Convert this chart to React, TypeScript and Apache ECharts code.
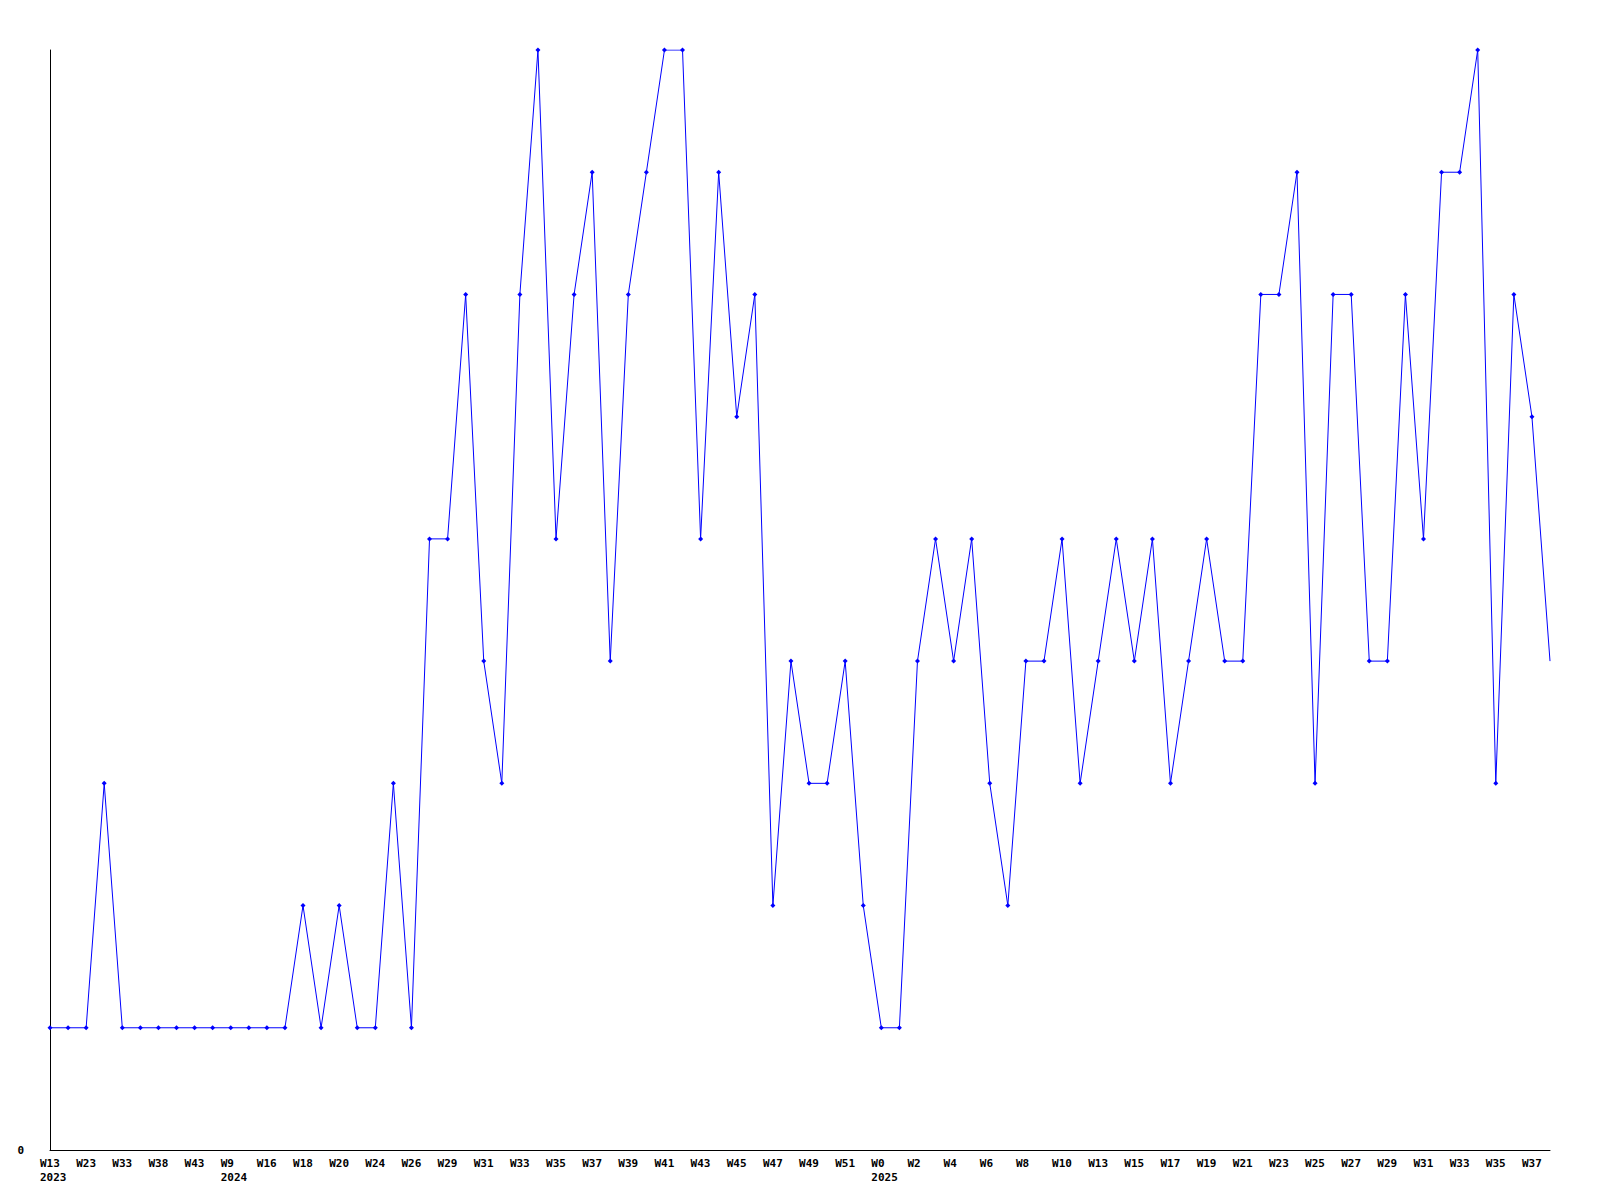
import React, { useEffect, useRef } from "react";
import * as echarts from "echarts";

const weekLabels = [
  "W13", "W18", "W23", "W28", "W33", "W36", "W38", "W41", "W43", "W48",
  "W9", "W13", "W16", "W17", "W18", "W19", "W20", "W22", "W24", "W25",
  "W26", "W28", "W29", "W30", "W31", "W32", "W33", "W34", "W35", "W36",
  "W37", "W38", "W39", "W40", "W41", "W42", "W43", "W44", "W45", "W46",
  "W47", "W48", "W49", "W50", "W51", "W52", "W0", "W1", "W2", "W3",
  "W4", "W5", "W6", "W7", "W8", "W9", "W10", "W12", "W13", "W14",
  "W15", "W16", "W17", "W18", "W19", "W20", "W21", "W22", "W23", "W24",
  "W25", "W26", "W27", "W28", "W29", "W30", "W31", "W32", "W33", "W34",
  "W35", "W36", "W37", "W38",
];

const yearStarts: Record<number, string> = { 0: "2023", 10: "2024", 46: "2025" };

const values = [
  1, 1, 1, 3, 1, 1, 1, 1, 1, 1,
  1, 1, 1, 1, 2, 1, 2, 1, 1, 3,
  1, 5, 5, 7, 4, 3, 7, 9, 5, 7,
  8, 4, 7, 8, 9, 9, 5, 8, 6, 7,
  2, 4, 3, 3, 4, 2, 1, 1, 4, 5,
  4, 5, 3, 2, 4, 4, 5, 3, 4, 5,
  4, 5, 3, 4, 5, 4, 4, 7, 7, 8,
  3, 7, 7, 4, 4, 7, 5, 8, 8, 9,
  3, 7, 6, 4,
];

const yTickLabels = ["0"];

const FONT = "'DejaVu Sans Mono', monospace";

export default function App() {
  const ref = useRef<HTMLDivElement>(null);
  useEffect(() => {
    if (!ref.current) return;
    const chart = echarts.init(ref.current, null, { renderer: "svg" });
    const lastIdx = values.length - 1;
    chart.setOption({
      animation: false,
      backgroundColor: "#ffffff",
      grid: { left: 50, right: 50, top: 50, bottom: 50, containLabel: false },
      xAxis: {
        type: "category",
        data: weekLabels,
        boundaryGap: false,
        axisLine: { show: true, lineStyle: { color: "#000000", width: 1 } },
        axisTick: { show: false },
        splitLine: { show: false },
        axisLabel: {
          interval: 1,
          hideOverlap: false,
          margin: 6,
          align: "center",
          color: "#000000",
          formatter: (val: string, idx: number) => {
            const y = yearStarts[idx];
            return y ? `{w|${val}}\n{w|${y}}` : `{w|${val}}`;
          },
          rich: {
            w: {
              width: 20,
              align: "left",
              fontFamily: FONT,
              fontWeight: "bold",
              fontSize: 11,
              lineHeight: 14,
              color: "#000000",
            },
          },
        },
      },
      yAxis: {
        type: "value",
        min: 0,
        max: 9,
        interval: 9,
        axisLine: { show: true, lineStyle: { color: "#000000", width: 1 } },
        axisTick: { show: false },
        splitLine: { show: false },
        axisLabel: {
          margin: 26,
          color: "#000000",
          fontFamily: FONT,
          fontWeight: "bold",
          fontSize: 11,
          formatter: (v: number) => (v === 0 ? yTickLabels[0] : ""),
        },
      },
      series: [
        {
          type: "line",
          data: values.map((v, i) => (i === lastIdx ? { value: v, symbol: "none" } : v)),
          symbol: "diamond",
          symbolSize: 5,
          showSymbol: true,
          showAllSymbol: true,
          lineStyle: { color: "#0000ff", width: 1 },
          itemStyle: { color: "#0000ff" },
          emphasis: { disabled: true },
        },
      ],
    });
    return () => chart.dispose();
  }, []);
  return (
    <div
      ref={ref}
      style={{ position: "fixed", left: 0, top: 0, width: 1600, height: 1200, background: "#fff" }}
    />
  );
}
